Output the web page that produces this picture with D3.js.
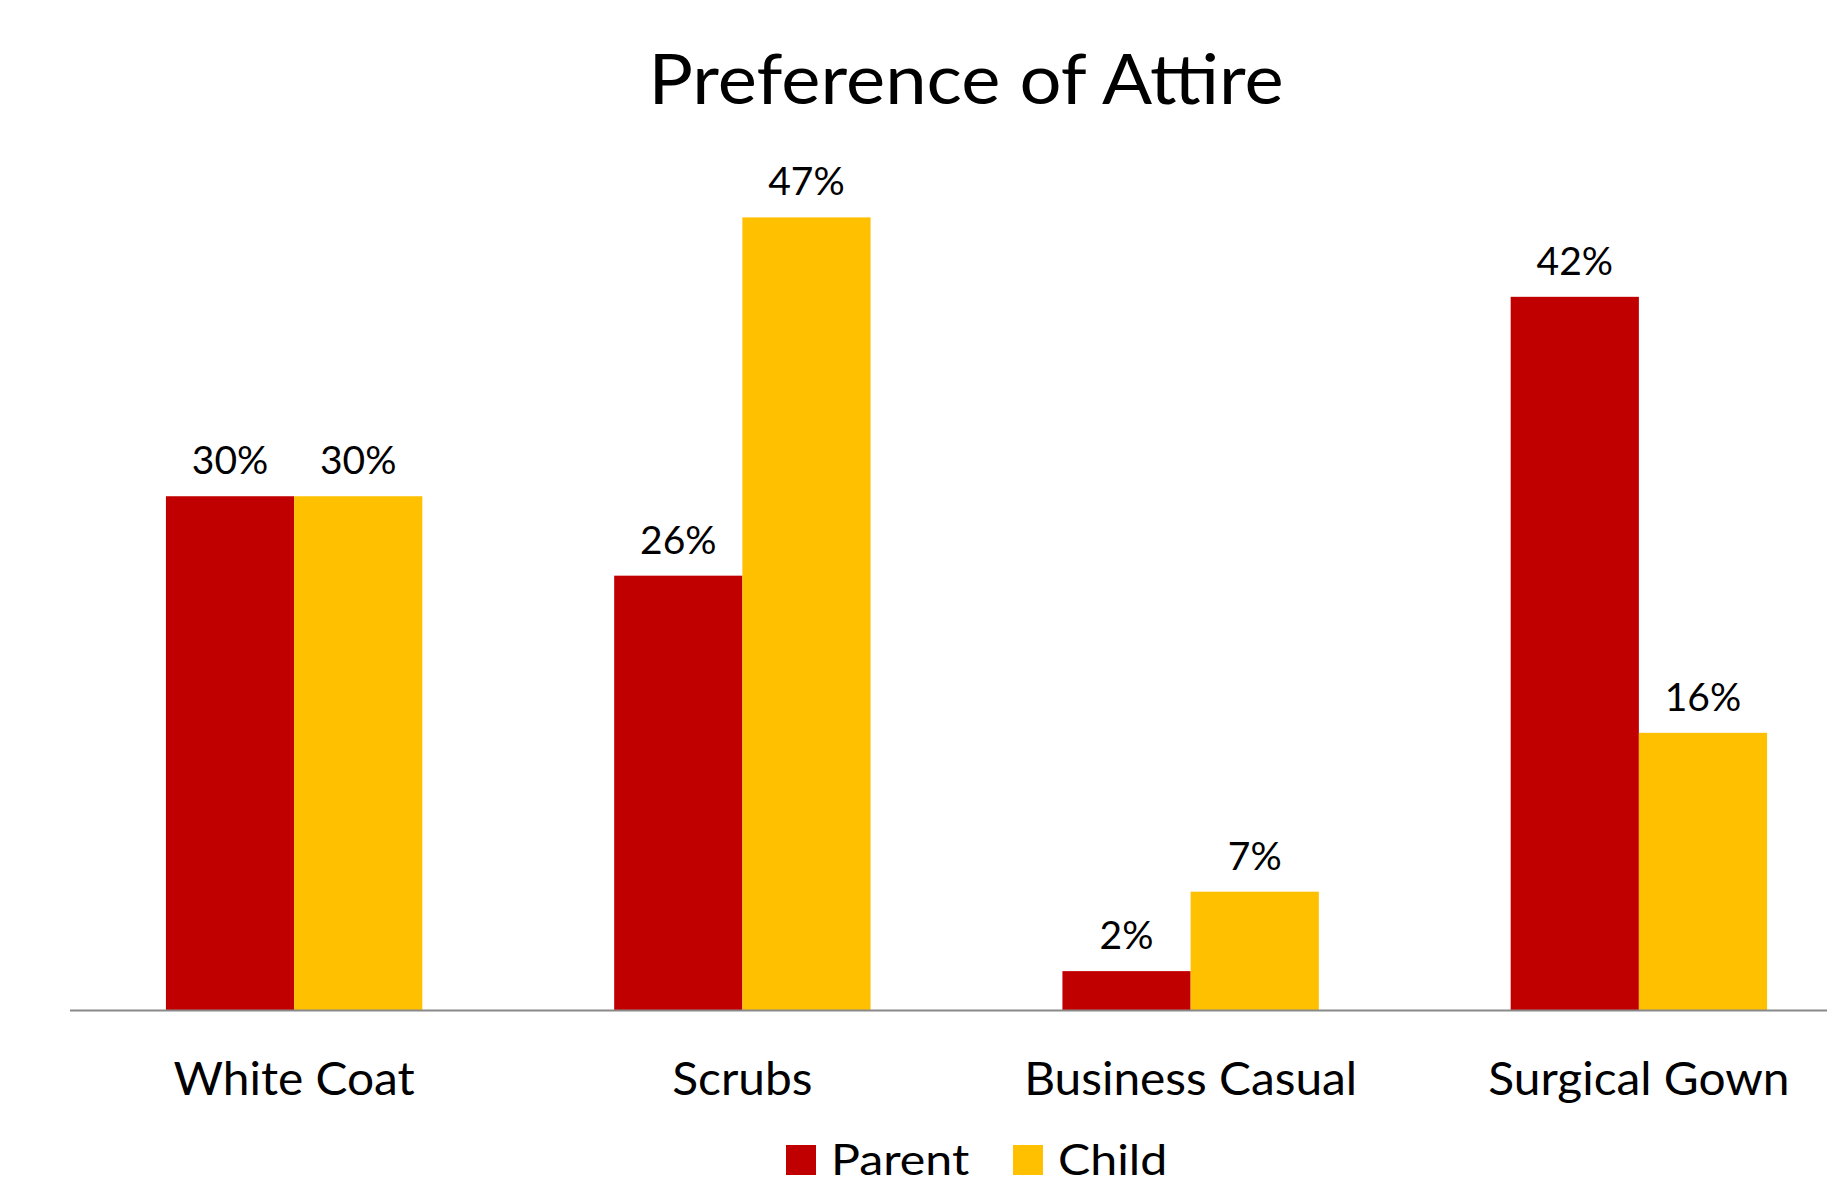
<!DOCTYPE html>
<html>
<head>
<meta charset="utf-8">
<script src="https://cdn.jsdelivr.net/npm/d3@7"></script>
<style>
  body { margin: 0; background: #fff; }
  text { font-family: Lato, "Open Sans", sans-serif; fill: #000; }
</style>
</head>
<body>
<script>
// data
var categories = ["White Coat", "Scrubs", "Business Casual", "Surgical Gown"];
var seriesNames = ["Parent", "Child"];
var parentValues = [30.4, 25.7, 2.3, 42.2];
var childValues = [30.4, 46.9, 7.0, 16.4];
var seriesColors = ["#C00000", "#FFC000"];

var width = 1827, height = 1187;

var svg = d3.select("body").append("svg")
    .attr("width", width)
    .attr("height", height);

var table = categories.map(function (c, i) {
    return {cat: c, Parent: parentValues[i], Child: childValues[i]};
});

var x0 = d3.scaleBand()
    .domain(categories)
    .range([70, 1863])
    .paddingInner(0.428)
    .paddingOuter(0.214);

var x1 = d3.scaleBand()
    .domain(seriesNames)
    .range([0, x0.bandwidth()]);

var y = d3.scaleLinear()
    .domain([0, 50])
    .range([1010, 165]);

var color = d3.scaleOrdinal().domain(seriesNames).range(seriesColors);

// stretch text sideways a little so Lato fills the width of the original font
function placeText(sel, x, y, sx) {
    return sel.attr("transform", "translate(" + x + "," + y + ") scale(" + sx + ",1)");
}

// title
placeText(svg.append("text"), 966, 104, 1.06)
    .attr("text-anchor", "middle")
    .attr("font-size", 70)
    .text("Preference of Attire");

// bars
var groups = svg.append("g").attr("class", "bars")
    .selectAll("g")
    .data(table)
    .enter().append("g")
    .attr("transform", function (d) { return "translate(" + x0(d.cat) + ",0)"; });

var cells = groups.selectAll("g")
    .data(function (d) {
        return seriesNames.map(function (s) { return {key: s, value: d[s]}; });
    })
    .enter().append("g");

cells.append("rect")
    .attr("x", function (d) { return x1(d.key); })
    .attr("y", function (d) { return y(d.value); })
    .attr("width", x1.bandwidth())
    .attr("height", function (d) { return y(0) - y(d.value); })
    .attr("fill", function (d) { return color(d.key); });

cells.append("text")
    .each(function (d) {
        placeText(d3.select(this), x1(d.key) + x1.bandwidth() / 2, y(d.value) - 22, 1.0);
    })
    .attr("text-anchor", "middle")
    .attr("font-size", 39)
    .text(function (d) { return Math.round(d.value) + "%"; });

// axis line
svg.append("line")
    .attr("x1", 70)
    .attr("x2", width)
    .attr("y1", y(0) + 0.5)
    .attr("y2", y(0) + 0.5)
    .attr("stroke", "#898989")
    .attr("stroke-width", 2);

// category labels
svg.append("g").attr("class", "x axis")
    .selectAll("text")
    .data(categories)
    .enter().append("text")
    .each(function (d) {
        placeText(d3.select(this), x0(d) + x0.bandwidth() / 2, 1095, 1.04);
    })
    .attr("text-anchor", "middle")
    .attr("font-size", 46)
    .text(function (d) { return d; });

// legend (kept a few px above the bottom edge so the text is not clipped)
var legend = svg.append("g").attr("class", "legend")
    .selectAll("g")
    .data(seriesNames)
    .enter().append("g")
    .attr("transform", function (d, i) { return "translate(" + (786 + i * 227) + ",1145)"; });

legend.append("rect")
    .attr("width", 30)
    .attr("height", 30)
    .attr("fill", function (d) { return color(d); });

legend.append("text")
    .each(function () { placeText(d3.select(this), 45, 30, 1.15); })
    .attr("font-size", 42)
    .text(function (d) { return d; });
</script>
</body>
</html>
